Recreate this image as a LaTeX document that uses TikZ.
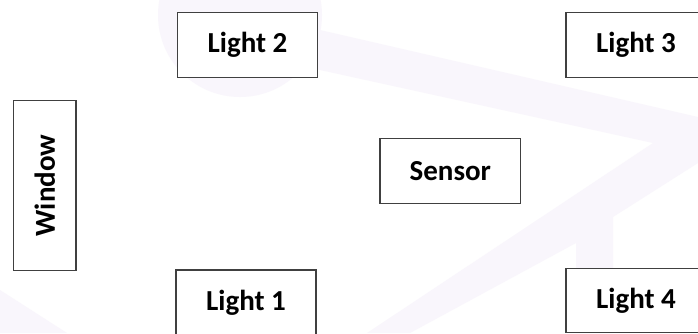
\documentclass[tikz,border=0pt]{standalone}
\usepackage{fontspec}
\setmainfont{Carlito}
\definecolor{wm}{RGB}{249,246,252}
\definecolor{edge}{RGB}{64,64,64}
\tikzset{
  box/.style={draw=edge, line width=1.4pt, fill=white, inner sep=0pt,
    minimum width=140pt, minimum height=64.5pt,
    font=\fontsize{29}{34}\selectfont\bfseries},
}
\begin{document}
\begin{tikzpicture}[x=1pt,y=-1pt]
\clip (0,0) rectangle (698,333);
\fill[white] (0,0) rectangle (698,333);
% faint watermark
\fill[wm] (240,15) circle (82);
\fill[wm] (300,25.4) -- (698,117) -- (698,163) -- (613,217) -- (613,333) -- (576,333)
  -- (576,243) -- (410,333) -- (367,333) -- (653,143) -- (300,65.6) -- cycle;
\fill[wm] (0,290) -- (67,333) -- (0,333) -- cycle;
% boxes
\node[box, minimum width=170.4pt, minimum height=62.7pt, rotate=90] (window) at (44.7,185.5) {Window};
\node[box] (light2) at (247.5,45) {Light 2};
\node[box] (light3) at (636,45) {Light 3};
\node[box, minimum width=140.7pt, minimum height=65.4pt] (sensor) at (450.3,171) {Sensor};
\node[box] (light1) at (246,302.3) {Light 1};
\node[box] (light4) at (636,300.5) {Light 4};
\end{tikzpicture}
\end{document}
